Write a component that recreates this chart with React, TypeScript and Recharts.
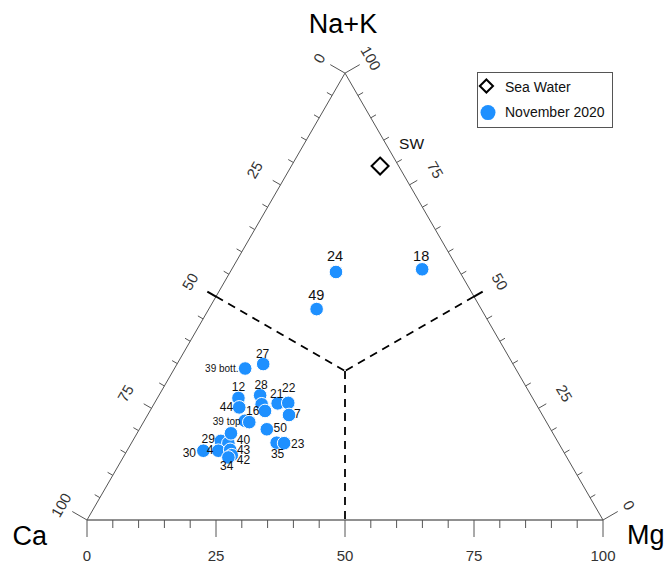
import React from 'react';
import {
  ScatterChart,
  Scatter,
  XAxis,
  YAxis,
  ReferenceLine,
  ReferenceDot,
  Legend,
} from 'recharts';

const FONT = '"Liberation Sans", Arial, Helvetica, sans-serif';
const S = Math.sqrt(3) / 2;
// pixels per percent unit inside the 516px plot area
const PX = 5.16;
const BLUE = '#1E90FF';

// November 2020 samples, cation percentages (meq %)
const sampleNames = [
  '27', '39 bott.', '12', '44', '28', '', '16', '21', '22', '7', '39 top', '',
  '50', '35', '23', '29', '40', '', '30', '4', '43', '42', '34', '24', '18', '49',
];
const caPct = [
  48.4, 52.4, 57.0, 57.9, 52.5, 53.2, 53.3, 50.0, 47.9, 49.1, 58.3, 57.6,
  55.0, 54.6, 53.2, 65.2, 64.0, 62.4, 69.7, 66.8, 64.4, 64.7, 65.6, 24.0, 7.0, 31.9,
];
const mgPct = [
  16.7, 13.7, 15.7, 16.9, 19.6, 20.9, 22.3, 23.9, 25.9, 27.4, 19.5, 20.5,
  24.7, 28.1, 29.6, 17.1, 18.8, 18.2, 14.8, 17.7, 19.9, 20.8, 20.4, 20.5, 36.9, 20.9,
];
const naKPct = [
  34.9, 33.9, 27.3, 25.2, 27.9, 25.9, 24.4, 26.1, 26.2, 23.5, 22.2, 21.9,
  20.3, 17.3, 17.2, 17.7, 17.2, 19.4, 15.5, 15.5, 15.7, 14.5, 14.0, 55.5, 56.1, 47.2,
];

// Sea water reference composition
const seaWaterName = ['SW'];
const seaWaterCa = [3.6];
const seaWaterMg = [17.2];
const seaWaterNaK = [79.2];

// axis ticks every 5 %, labelled every 25 %
const tickValues = [0, 5, 10, 15, 20, 25, 30, 35, 40, 45, 50, 55, 60, 65, 70, 75, 80, 85, 90, 95, 100];
const tickLabels = [0, 25, 50, 75, 100];

type Pt = { x: number; y: number };

// ternary (Ca, Mg, Na+K) -> cartesian, Ca corner at origin, Mg corner at (100, 0)
const toXY = (ca: number, mg: number, nak: number): Pt => {
  const t = ca + mg + nak;
  const m = (100 * mg) / t;
  const n = (100 * nak) / t;
  return { x: m + n / 2, y: n * S };
};

const samples = sampleNames.map((name, i) => ({ name, ...toXY(caPct[i], mgPct[i], naKPct[i]) }));
const seaWater = seaWaterName.map((name, i) => ({
  name,
  ...toXY(seaWaterCa[i], seaWaterMg[i], seaWaterNaK[i]),
}));

// label placement around each marker: dx, baseline dy (px), anchor
const labelPlacement: Record<string, [number, number, 'start' | 'middle' | 'end']> = {
  '27': [-0.6, -5.7, 'middle'],
  '39 bott.': [-6.7, 3.2, 'end'],
  '12': [0, -6.6, 'middle'],
  '44': [-6, 3.4, 'end'],
  '28': [1, -6.7, 'middle'],
  '16': [-5.7, 3.6, 'end'],
  '21': [-1, -5, 'middle'],
  '22': [0.4, -11, 'middle'],
  '7': [5, 3.3, 'start'],
  '39 top': [-4.3, 4.6, 'end'],
  '50': [6.7, 2.4, 'start'],
  '35': [1, 15.6, 'middle'],
  '23': [7, 4.4, 'start'],
  '29': [-6, 2.3, 'end'],
  '40': [8.4, 0.6, 'start'],
  '30': [-7.3, 6, 'end'],
  '4': [-5, 3.6, 'end'],
  '43': [6.7, 4.2, 'start'],
  '42': [5, 8.6, 'start'],
  '34': [-1.6, 12.7, 'middle'],
  '24': [-1, -10.6, 'middle'],
  '18': [-1, -8.6, 'middle'],
  '49': [-0.4, -9, 'middle'],
  SW: [19, -17, 'start'],
};

const labelSize = (name: string) => {
  if (name.startsWith('39')) return 10;
  if (name === '24' || name === '18' || name === '49') return 14.5;
  if (name === 'SW') return 15.5;
  return 12;
};

const corners = {
  ca: toXY(100, 0, 0),
  mg: toXY(0, 100, 0),
  nak: toXY(0, 0, 100),
};
const centroid = toXY(1, 1, 1);
const dashed: [Pt, Pt][] = [
  [toXY(50, 0, 50), centroid],
  [toXY(0, 50, 50), centroid],
  [centroid, toXY(50, 50, 0)],
];

type Seg = { key: string; a: Pt; b: Pt; stroke: string; w: number };
const ticks: Seg[] = [];
const off = (p: Pt, dx: number, dy: number, len: number): Pt => ({
  x: p.x + (dx * len) / PX,
  y: p.y + (dy * len) / PX,
});
tickValues.forEach((v) => {
  const corner = v === 0 || v === 100;
  const major = v % 25 === 0;
  // bottom edge (Mg %)
  const b = { x: v, y: 0 };
  ticks.push({ key: `b${v}`, a: b, b: off(b, 0, -1, major ? 17 : 8), stroke: '#555', w: 1 });
  // left edge (Ca %)
  const l = toXY(v, 0, 100 - v);
  const sideLen = corner ? 17 : v === 50 ? 10 : major ? 9 : 6;
  const sideStroke = v === 50 ? '#000' : '#555';
  const sideW = v === 50 ? 2 : 1;
  ticks.push({ key: `l${v}`, a: l, b: off(l, -S, 0.5, sideLen), stroke: sideStroke, w: sideW });
  // right edge (Na+K %)
  const r = toXY(0, 100 - v, v);
  ticks.push({ key: `r${v}`, a: r, b: off(r, S, 0.5, sideLen), stroke: sideStroke, w: sideW });
});

type AxisText = { key: string; p: Pt; text: string; dx: number; dy: number; rot: number };
const axisTexts: AxisText[] = [];
tickLabels.forEach((v) => {
  axisTexts.push({ key: `bl${v}`, p: { x: v, y: 0 }, text: String(v), dx: 0, dy: 35, rot: 0 });
  axisTexts.push({ key: `ll${v}`, p: toXY(v, 0, 100 - v), text: String(v), dx: -26, dy: -15, rot: -60 });
  axisTexts.push({ key: `rl${v}`, p: toXY(0, 100 - v, v), text: String(v), dx: 26, dy: -15, rot: 60 });
});

const circleShape = (p: any) => (
  <circle cx={p.cx} cy={p.cy} r={6.8} fill={BLUE} stroke="#fff" strokeWidth={1} />
);

const diamondShape = (p: any) => {
  const h = 8.5;
  return (
    <polygon
      points={`${p.cx},${p.cy - h} ${p.cx + h},${p.cy} ${p.cx},${p.cy + h} ${p.cx - h},${p.cy}`}
      fill="#fff"
      stroke="#000"
      strokeWidth={2}
    />
  );
};

const labelShape = (p: any) => {
  const name: string = p.payload?.name ?? '';
  const place = labelPlacement[name];
  if (!name || !place) return <g />;
  const [dx, dy, anchor] = place;
  return (
    <text
      x={p.cx + dx}
      y={p.cy + dy}
      textAnchor={anchor}
      fontFamily={FONT}
      fontSize={labelSize(name)}
      fill="#111"
    >
      {name}
    </text>
  );
};

const LegendBox = () => (
  <div style={{ width: 136, height: 56, boxSizing: 'border-box', border: '1px solid #555', background: '#fff' }}>
    <svg width={134} height={54} style={{ display: 'block' }}>
      <polygon points="8.4,6.5 15,13 8.4,19.5 1.8,13" fill="#fff" stroke="#000" strokeWidth={2} />
      <text x={27} y={18.5} fontFamily={FONT} fontSize={14} fill="#111">
        Sea Water
      </text>
      <circle cx={10} cy={39.6} r={7.5} fill={BLUE} />
      <text x={27} y={44} fontFamily={FONT} fontSize={14} fill="#111">
        November 2020
      </text>
    </svg>
  </div>
);

export default function App() {
  return (
    <div style={{ position: 'absolute', left: 0, top: 0, background: '#fff' }}>
      <ScatterChart width={667} height={562} margin={{ top: 4, right: 64, bottom: 42, left: 87 }}>
        <XAxis type="number" dataKey="x" domain={[0, 100]} hide />
        <YAxis type="number" dataKey="y" domain={[0, 100]} hide />

        {/* triangle edges */}
        <ReferenceLine segment={[corners.ca, corners.mg]} stroke="#222" strokeWidth={1} ifOverflow="visible" />
        <ReferenceLine segment={[corners.ca, corners.nak]} stroke="#555" strokeWidth={1} ifOverflow="visible" />
        <ReferenceLine segment={[corners.mg, corners.nak]} stroke="#555" strokeWidth={1} ifOverflow="visible" />

        {ticks.map((t) => (
          <ReferenceLine key={t.key} segment={[t.a, t.b]} stroke={t.stroke} strokeWidth={t.w} ifOverflow="visible" />
        ))}

        {/* facies divisions */}
        {dashed.map((d, i) => (
          <ReferenceLine
            key={`d${i}`}
            segment={d}
            stroke="#000"
            strokeWidth={1.8}
            strokeDasharray="8 6"
            ifOverflow="visible"
          />
        ))}

        {axisTexts.map((t) => (
          <ReferenceDot
            key={t.key}
            x={t.p.x}
            y={t.p.y}
            r={0}
            ifOverflow="visible"
            shape={(p: any) => (
              <text
                x={p.cx + t.dx}
                y={p.cy + t.dy}
                textAnchor="middle"
                dominantBaseline="central"
                transform={t.rot ? `rotate(${t.rot} ${p.cx + t.dx} ${p.cy + t.dy})` : undefined}
                fontFamily={FONT}
                fontSize={15}
                fill="#333"
              >
                {t.text}
              </text>
            )}
          />
        ))}

        {/* corner titles */}
        <ReferenceDot
          x={corners.nak.x}
          y={corners.nak.y}
          r={0}
          ifOverflow="visible"
          shape={(p: any) => (
            <text x={p.cx - 2} y={p.cy - 40} textAnchor="middle" fontFamily={FONT} fontSize={27} fill="#000">
              Na+K
            </text>
          )}
        />
        <ReferenceDot
          x={corners.ca.x}
          y={corners.ca.y}
          r={0}
          ifOverflow="visible"
          shape={(p: any) => (
            <text x={p.cx - 40} y={p.cy + 25} textAnchor="end" fontFamily={FONT} fontSize={27} fill="#000">
              Ca
            </text>
          )}
        />
        <ReferenceDot
          x={corners.mg.x}
          y={corners.mg.y}
          r={0}
          ifOverflow="visible"
          shape={(p: any) => (
            <text x={p.cx + 24} y={p.cy + 24} textAnchor="start" fontFamily={FONT} fontSize={27} fill="#000">
              Mg
            </text>
          )}
        />

        <Scatter name="Sea Water" data={seaWater} shape={diamondShape} isAnimationActive={false} />
        <Scatter name="November 2020" data={samples} shape={circleShape} isAnimationActive={false} />
        <Scatter
          name="labels"
          data={[...samples, ...seaWater]}
          shape={labelShape}
          legendType="none"
          isAnimationActive={false}
        />

        <Legend
          layout="vertical"
          align="center"
          verticalAlign="middle"
          width={136}
          height={56}
          wrapperStyle={{ left: 477, top: 72, width: 136, height: 56 }}
          content={() => <LegendBox />}
        />
      </ScatterChart>
    </div>
  );
}
